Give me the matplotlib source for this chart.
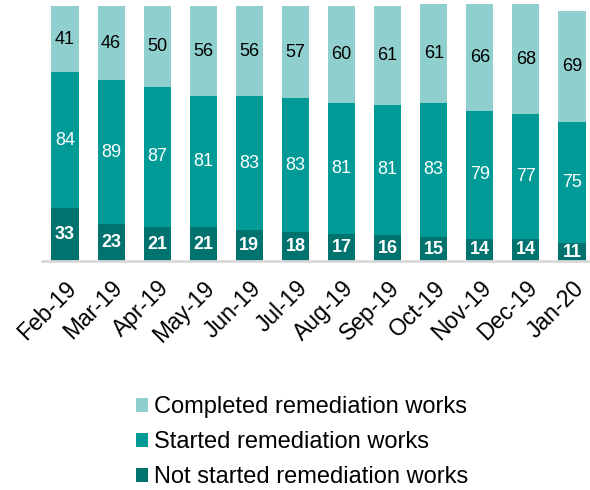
import matplotlib
matplotlib.use("Agg")
import matplotlib.pyplot as plt
import numpy as np

months = ["Feb-19", "Mar-19", "Apr-19", "May-19", "Jun-19", "Jul-19",
          "Aug-19", "Sep-19", "Oct-19", "Nov-19", "Dec-19", "Jan-20"]
not_started = [33, 23, 21, 21, 19, 18, 17, 16, 15, 14, 14, 11]
started = [84, 89, 87, 81, 83, 83, 81, 81, 83, 79, 77, 75]
completed = [41, 46, 50, 56, 56, 57, 60, 61, 61, 66, 68, 69]

c_light = "#8FD0CE"
c_mid = "#009A97"
c_dark = "#00736F"

plt.rcParams['font.family'] = ['Liberation Sans', 'DejaVu Sans']

fig = plt.figure(figsize=(5.9, 4.9), dpi=100)
ax = fig.add_axes([42/590, 0.467, (595-42)/590, 1-0.467])

x = np.arange(len(months))
w = 0.59
ns = np.array(not_started)
st = np.array(started)
cp = np.array(completed)

b1 = ax.bar(x, ns, w, color=c_dark, label="Not started remediation works")
b2 = ax.bar(x, st, w, bottom=ns, color=c_mid, label="Started remediation works")
b3 = ax.bar(x, cp, w, bottom=ns + st, color=c_light, label="Completed remediation works")

for i in range(len(x)):
    ax.text(x[i], ns[i] / 2, str(ns[i]), ha='center', va='center', color='white',
            fontsize=13, fontweight='bold')
    ax.text(x[i], ns[i] + st[i] / 2, str(st[i]), ha='center', va='center', color='white',
            fontsize=13)
    ax.text(x[i], ns[i] + st[i] + cp[i] / 2, str(cp[i]), ha='center', va='center', color='black',
            fontsize=13)

ax.set_xlim(-0.5, len(x) - 0.5)
ax.set_ylim(0, 161.7)
ax.set_yticks([])
for s in ['top', 'right', 'left']:
    ax.spines[s].set_visible(False)
ax.spines['bottom'].set_color('#D9D9D9')
ax.spines['bottom'].set_linewidth(2)
ax.set_xticks(x)
ax.set_xticklabels(months, rotation=45, ha='right', rotation_mode='anchor', fontsize=16.5)
ax.tick_params(axis='x', length=0, pad=11)

handles = [b3, b2, b1]
labels = [h.get_label() for h in handles]
fig.legend(handles, labels, loc='upper left', bbox_to_anchor=(136/590, 1 - 396/490),
           frameon=False, fontsize=17, handlelength=0.52, handleheight=0.52,
           handletextpad=0.25, labelspacing=0.56, borderaxespad=0, borderpad=0)

fig.savefig("out.png", dpi=100)
